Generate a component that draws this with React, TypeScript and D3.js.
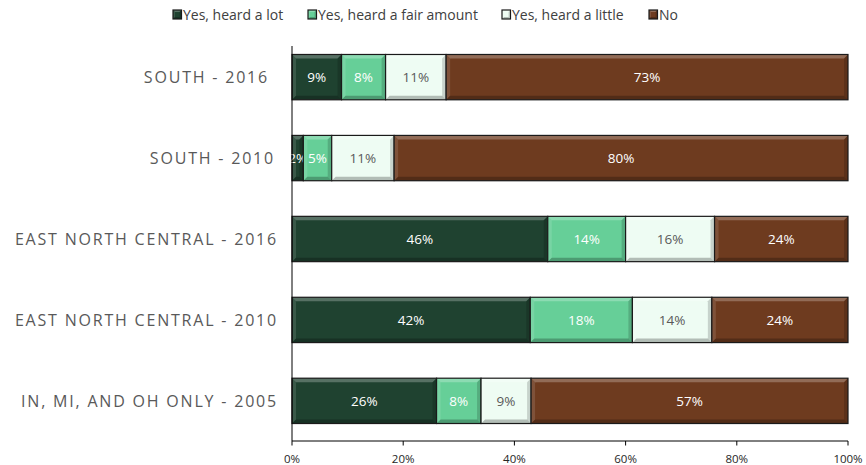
import React from "react";
import * as d3 from "d3";

const categories = [
  "SOUTH - 2016",
  "SOUTH - 2010",
  "EAST NORTH CENTRAL - 2016",
  "EAST NORTH CENTRAL - 2010",
  "IN, MI, AND OH ONLY - 2005",
];
const seriesNames = ["Yes, heard a lot", "Yes, heard a fair amount", "Yes, heard a little", "No"];
const heardALot = [9, 2, 46, 42, 26];
const heardFair = [8, 5, 14, 18, 8];
const heardLittle = [11, 11, 16, 14, 9];
const heardNo = [73, 80, 24, 24, 57];
const xTicks = [0, 0.2, 0.4, 0.6, 0.8, 1];

const colors = ["#1f4230", "#66cf98", "#eefcf3", "#6e3b1f"];
const labelColors = ["#ffffff", "#ffffff", "#595959", "#ffffff"];
const legendX = [173, 308, 502, 649];
const labelRight = [269, 275, 278, 278, 278];

const W = 866;
const H = 465;
const FONT = "'Open Sans', 'Liberation Sans', sans-serif";

function Bevel({ x, y, w, h, fill, b = 4 }: { x: number; y: number; w: number; h: number; fill: string; b?: number }) {
  const bb = Math.min(b, w / 2, h / 2);
  const x2 = x + w;
  const y2 = y + h;
  return (
    <g>
      <rect x={x} y={y} width={w} height={h} fill={fill} />
      <polygon points={`${x},${y} ${x2},${y} ${x2 - bb},${y + bb} ${x + bb},${y + bb}`} fill="#ffffff" opacity={0.25} />
      <polygon points={`${x},${y} ${x + bb},${y + bb} ${x + bb},${y2 - bb} ${x},${y2}`} fill="#ffffff" opacity={0.12} />
      <polygon points={`${x},${y2} ${x + bb},${y2 - bb} ${x2 - bb},${y2 - bb} ${x2},${y2}`} fill="#000000" opacity={0.25} />
      <polygon points={`${x2},${y} ${x2},${y2} ${x2 - bb},${y2 - bb} ${x2 - bb},${y + bb}`} fill="#000000" opacity={0.16} />
      <rect x={x} y={y} width={w} height={h} fill="none" stroke="#1a1a1a" strokeWidth={1.2} />
    </g>
  );
}

export default function App() {
  const series = [heardALot, heardFair, heardLittle, heardNo];
  const left = 292;
  const right = 848;
  const top = 37;
  const bottom = 441;

  const x = d3.scaleLinear().domain([0, 1]).range([left, right]);
  const y = d3
    .scaleBand<string>()
    .domain(categories)
    .range([top, bottom])
    .paddingInner(0.44)
    .paddingOuter(0.216);

  const rows = categories.map((c, i) => {
    const vals = series.map((s) => s[i]);
    const total = d3.sum(vals);
    let acc = 0;
    return vals.map((v, k) => {
      const x0 = acc / total;
      acc += v;
      return { cat: c, k, v, x0, x1: acc / total };
    });
  });

  return (
    <svg width={W} height={H} style={{ display: "block", position: "absolute", left: 0, top: 0 }} fontFamily={FONT}>
      <rect width={W} height={H} fill="#ffffff" />
      {/* legend */}
      {seriesNames.map((n, k) => (
        <g key={n} transform={`translate(${legendX[k]},${10})`}>
          <Bevel x={0} y={0} w={8.5} h={9} fill={colors[k]} b={2} />
          <text x={10} y={9.5} fontSize={14} fill="#404040">
            {n}
          </text>
        </g>
      ))}
      {/* bars */}
      {rows.map((segs) =>
        segs.map((s) => {
          const x0 = x(s.x0);
          const x1 = x(s.x1);
          const yy = y(s.cat)!;
          const h = y.bandwidth();
          return (
            <g key={s.cat + s.k}>
              <Bevel x={x0} y={yy} w={x1 - x0} h={h} fill={colors[s.k]} />
              <text
                x={(x0 + x1) / 2}
                y={yy + h / 2}
                dy="0.36em"
                textAnchor="middle"
                fontSize={13.5}
                fill={labelColors[s.k]}
              >
                {d3.format(".0f")(s.v) + "%"}
              </text>
            </g>
          );
        })
      )}
      {/* category labels */}
      {categories.map((c, i) => (
        <text
          key={c}
          x={labelRight[i]}
          y={y(c)! + y.bandwidth() / 2}
          dy="0.36em"
          textAnchor="end"
          fontSize={16}
          letterSpacing={1.8}
          fill="#595959"
        >
          {c}
        </text>
      ))}
      {/* axes */}
      <line x1={left} x2={left} y1={46} y2={bottom} stroke="#000" strokeWidth={1} />
      <line x1={left} x2={right} y1={bottom} y2={bottom} stroke="#000" strokeWidth={1} />
      {xTicks.map((t) => (
        <g key={t}>
          <line x1={x(t)} x2={x(t)} y1={bottom} y2={bottom + 4.5} stroke="#000" strokeWidth={1} />
          <text x={x(t)} y={bottom + 22} textAnchor="middle" fontSize={11.5} fill="#262626">
            {d3.format(".0%")(t)}
          </text>
        </g>
      ))}
    </svg>
  );
}
